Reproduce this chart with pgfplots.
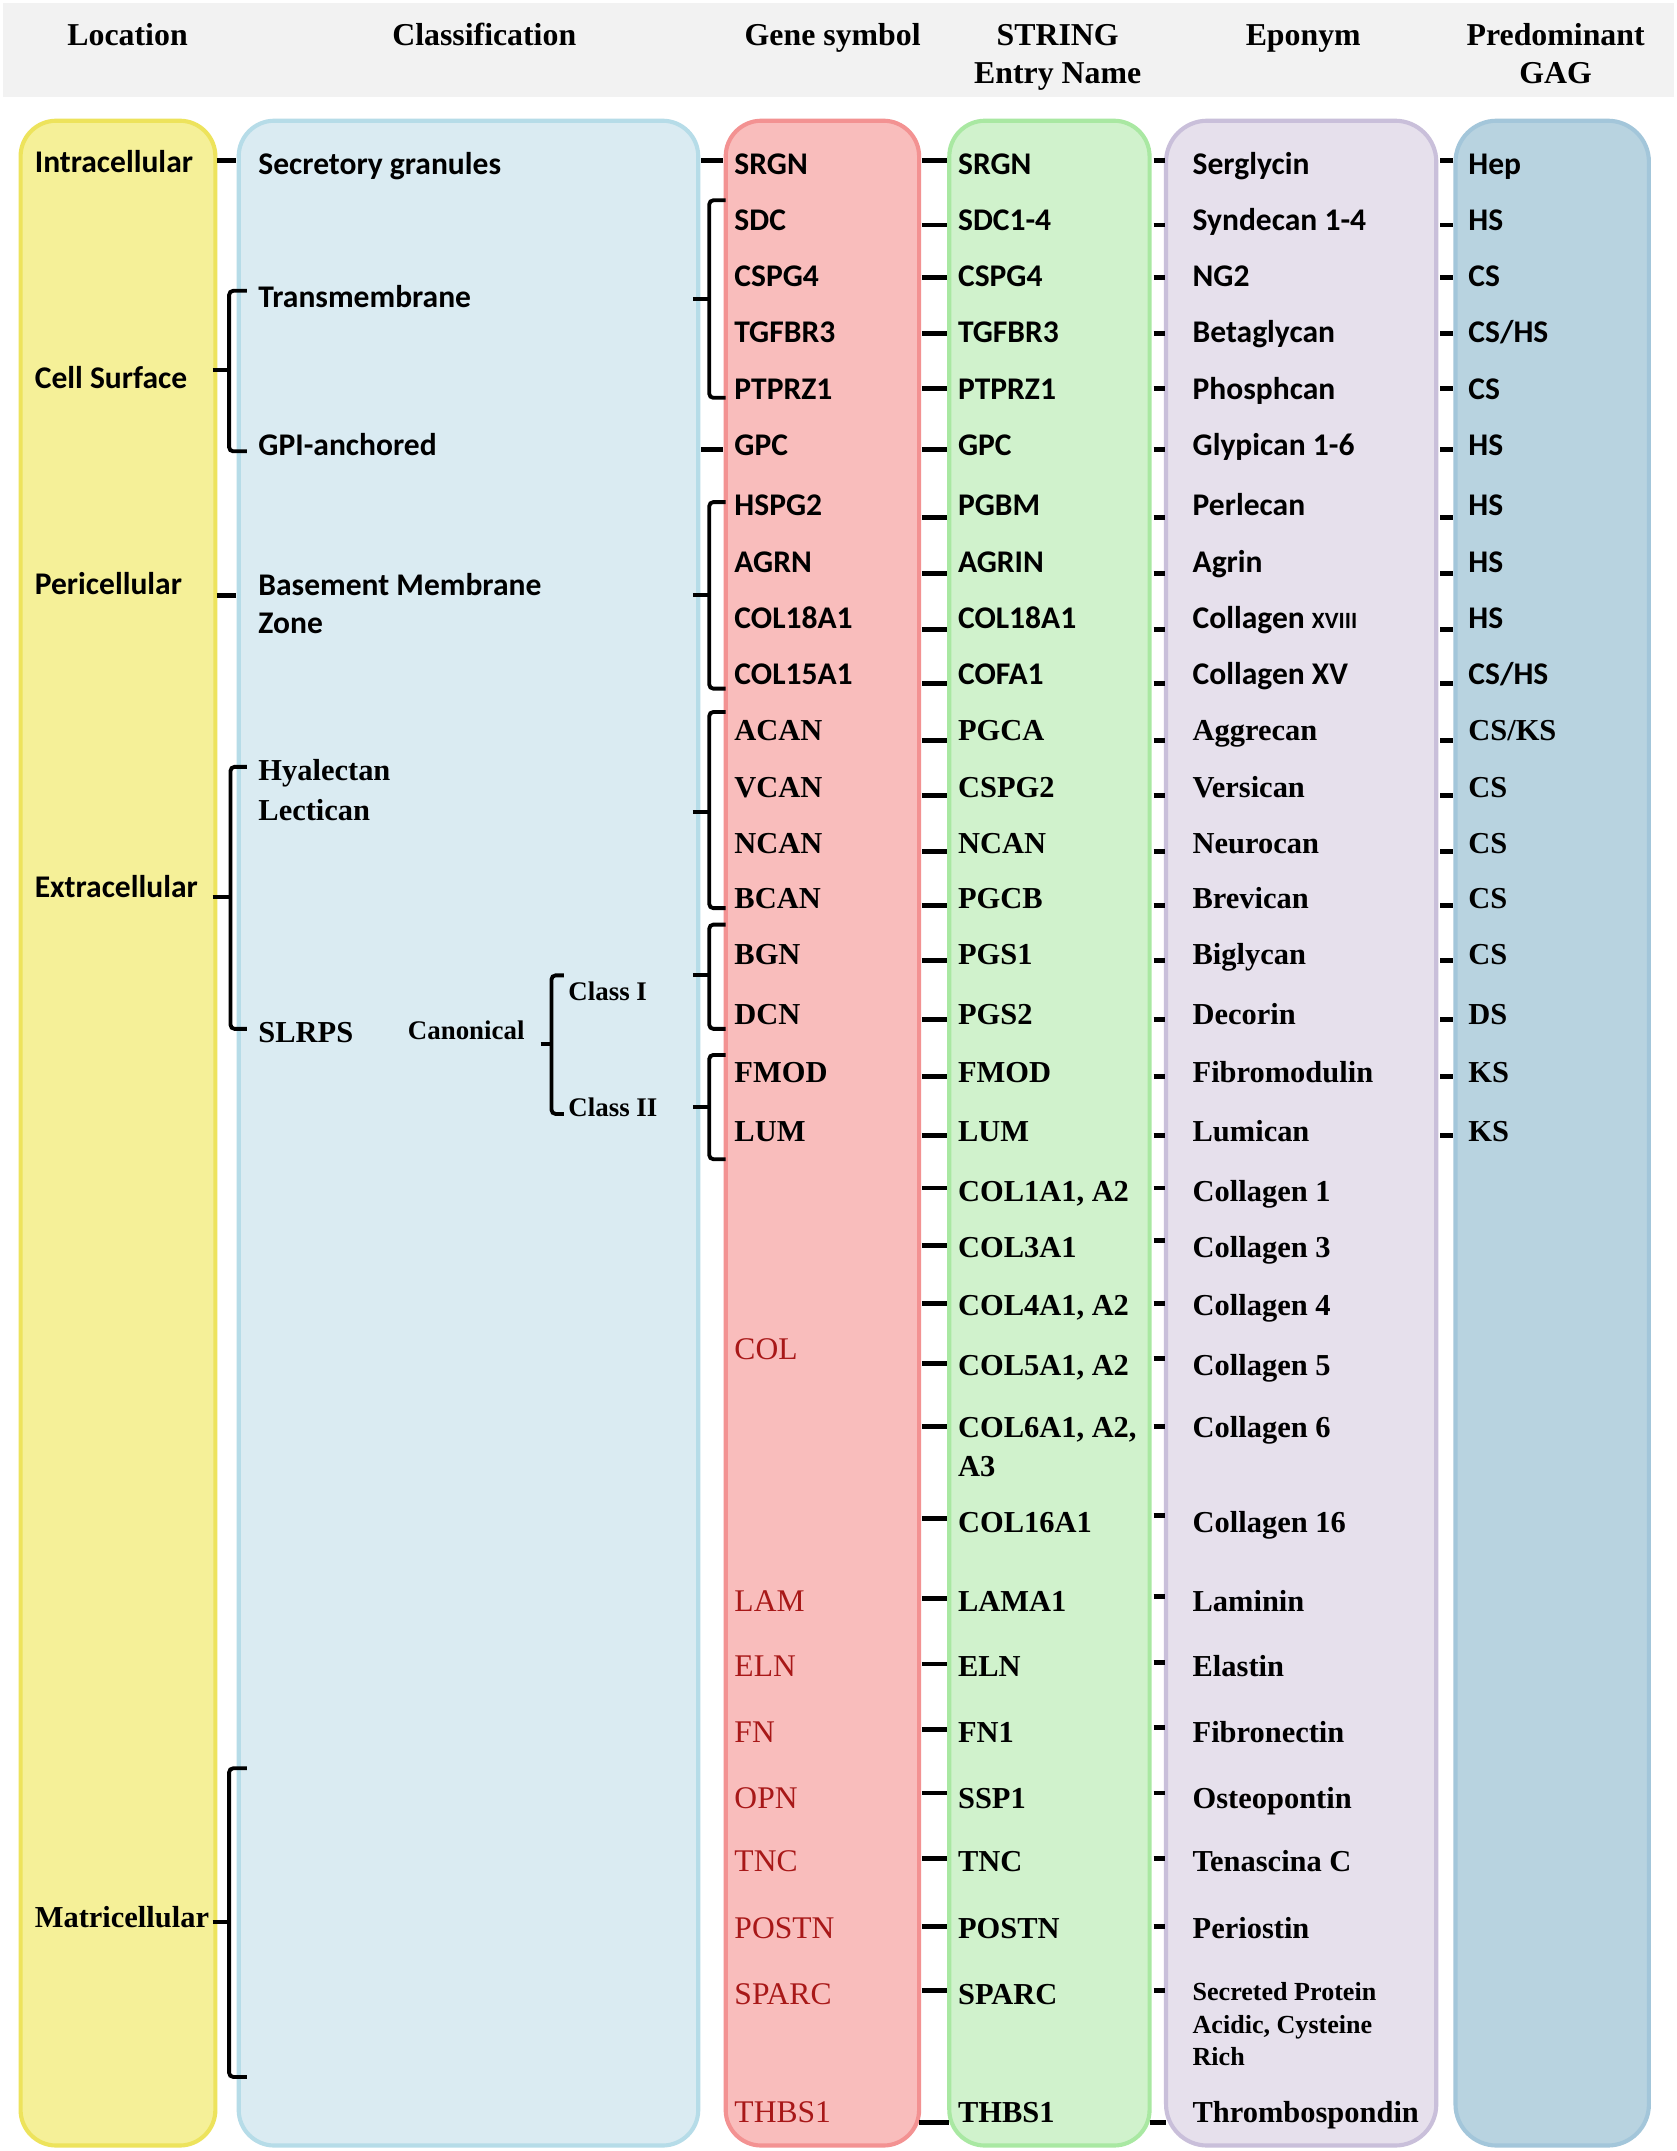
\documentclass[border=0pt]{standalone}
\usepackage{pgfplots}
\pgfplotsset{compat=1.18}
\usepackage{fontspec}
\setmainfont{Liberation Serif}
\newfontfamily\calfont{Carlito}
\definecolor{hdr}{HTML}{F2F2F2}
\definecolor{yfill}{HTML}{F5F098}
\definecolor{ybord}{HTML}{EDE35C}
\definecolor{bfill}{HTML}{DAEBF2}
\definecolor{bbord}{HTML}{B6DCE8}
\definecolor{pfill}{HTML}{F9BDBC}
\definecolor{pbord}{HTML}{F39292}
\definecolor{gfill}{HTML}{D0F2CC}
\definecolor{gbord}{HTML}{A9E8A2}
\definecolor{lfill}{HTML}{E6E0EC}
\definecolor{lbord}{HTML}{C9BFDA}
\definecolor{sfill}{HTML}{B8D3E0}
\definecolor{sbord}{HTML}{A3C6DA}
\definecolor{dred}{HTML}{A81818}
\newcommand{\CB}{\calfont\bfseries\fontsize{11.5}{13}\selectfont}
\newcommand{\TB}{\rmfamily\bfseries\fontsize{11.1}{13}\selectfont}
\newcommand{\TR}{\rmfamily\fontsize{11.5}{13}\selectfont\color{dred}}
\newcommand{\HD}{\rmfamily\bfseries\fontsize{11.6}{14}\selectfont}
\tikzset{lab/.style={anchor=base west,inner sep=0pt},
  hd/.style={anchor=base,inner sep=0pt},
  brk/.style={line width=1.4pt,rounded corners=1.5pt},
  dsh/.style={line width=1.8pt}}
\newcommand{\lab}[3]{\node[lab] at (axis cs:#1,#2) {#3};}
\newcommand{\brk}[6]{\draw[brk] (axis cs:#3,#4) -- (axis cs:#1,#4) -- (axis cs:#1,#5) -- (axis cs:#3,#5); \draw[brk] (axis cs:#2,#6) -- (axis cs:#1,#6);}
\newcommand{\dsh}[3]{\draw[dsh] (axis cs:#1,#3) -- (axis cs:#2,#3);}
\begin{document}
\begin{tikzpicture}
\begin{axis}[width=611pt,height=784pt,scale only axis,xmin=0,xmax=1222,ymin=0,ymax=1568,
  y dir=reverse,hide axis,clip=false]
\addplot[draw=none] coordinates {(0,0) (1222,1568)};
% background
\fill[white] (axis cs:0,0) rectangle (axis cs:1222,1568);
\fill[hdr] (axis cs:2,2) rectangle (axis cs:1220,71);
% header
\node[hd] at (axis cs:93,33) {\HD Location};
\node[hd] at (axis cs:353,33) {\HD Classification};
\node[hd] at (axis cs:607,33) {\HD Gene symbol};
\node[hd] at (axis cs:771,33) {\HD STRING};
\node[hd] at (axis cs:771,61) {\HD Entry Name};
\node[hd] at (axis cs:950,33) {\HD Eponym};
\node[hd] at (axis cs:1134,33) {\HD Predominant};
\node[hd] at (axis cs:1134,61) {\HD GAG};
% columns
\draw[rounded corners=13pt,line width=1.5pt,draw=ybord,fill=yfill] (axis cs:15,88) rectangle (axis cs:157,1564);
\draw[rounded corners=13pt,line width=1.5pt,draw=bbord,fill=bfill] (axis cs:174,88) rectangle (axis cs:509,1564);
\draw[rounded corners=13pt,line width=1.5pt,draw=pbord,fill=pfill] (axis cs:529,88) rectangle (axis cs:670,1564);
\draw[rounded corners=13pt,line width=1.5pt,draw=gbord,fill=gfill] (axis cs:692,88) rectangle (axis cs:838,1564);
\draw[rounded corners=15pt,line width=1.5pt,draw=lbord,fill=lfill] (axis cs:850,88) rectangle (axis cs:1047,1564);
\draw[rounded corners=15pt,line width=1.5pt,draw=sbord,fill=sfill] (axis cs:1061,88) rectangle (axis cs:1202,1564);
% location
\lab{25}{126}{\CB Intracellular}
\lab{25}{283}{\CB Cell Surface}
\lab{25}{433}{\CB Pericellular}
\lab{25}{654}{\CB Extracellular}
\lab{25}{1405}{\TB Matricellular}
% classification
\lab{188}{127}{\CB Secretory granules}
\lab{188}{224}{\CB Transmembrane}
\lab{188}{332}{\CB GPI-anchored}
\lab{188}{434}{\CB Basement Membrane}
\lab{188}{462}{\CB Zone}
\lab{188}{569}{\TB Hyalectan}
\lab{188}{598}{\TB Lectican}
\lab{188}{760}{\TB SLRPS}
\lab{297}{758}{\rmfamily\bfseries\fontsize{9.8}{12}\selectfont Canonical}
\lab{414}{729}{\rmfamily\bfseries\fontsize{9.8}{12}\selectfont Class I}
\lab{414}{814}{\rmfamily\bfseries\fontsize{9.8}{12}\selectfont Class II}
% gene symbols
\lab{535}{127}{\CB SRGN}
\lab{535}{168}{\CB SDC}
\lab{535}{209}{\CB CSPG4}
\lab{535}{250}{\CB TGFBR3}
\lab{535}{291}{\CB PTPRZ1}
\lab{535}{332}{\CB GPC}
\lab{535}{376}{\CB HSPG2}
\lab{535}{417}{\CB AGRN}
\lab{535}{458}{\CB COL18A1}
\lab{535}{499}{\CB COL15A1}
\lab{535}{540}{\TB ACAN}
\lab{535}{581}{\TB VCAN}
\lab{535}{622}{\TB NCAN}
\lab{535}{662}{\TB BCAN}
\lab{535}{703}{\TB BGN}
\lab{535}{747}{\TB DCN}
\lab{535}{789}{\TB FMOD}
\lab{535}{832}{\TB LUM}
\lab{535}{991}{\TR COL}
\lab{535}{1175}{\TR LAM}
\lab{535}{1222}{\TR ELN}
\lab{535}{1270}{\TR FN}
\lab{535}{1318}{\TR OPN}
\lab{535}{1364}{\TR TNC}
\lab{535}{1413}{\TR POSTN}
\lab{535}{1461}{\TR SPARC}
\lab{535}{1547}{\TR THBS1}
% STRING
\lab{698}{127}{\CB SRGN}
\lab{698}{168}{\CB SDC1-4}
\lab{698}{209}{\CB CSPG4}
\lab{698}{250}{\CB TGFBR3}
\lab{698}{291}{\CB PTPRZ1}
\lab{698}{332}{\CB GPC}
\lab{698}{376}{\CB PGBM}
\lab{698}{417}{\CB AGRIN}
\lab{698}{458}{\CB COL18A1}
\lab{698}{499}{\CB COFA1}
\lab{698}{540}{\TB PGCA}
\lab{698}{581}{\TB CSPG2}
\lab{698}{622}{\TB NCAN}
\lab{698}{662}{\TB PGCB}
\lab{698}{703}{\TB PGS1}
\lab{698}{747}{\TB PGS2}
\lab{698}{789}{\TB FMOD}
\lab{698}{832}{\TB LUM}
\lab{698}{876}{\TB COL1A1, A2}
\lab{698}{917}{\TB COL3A1}
\lab{698}{959}{\TB COL4A1, A2}
\lab{698}{1003}{\TB COL5A1, A2}
\lab{698}{1048}{\TB COL6A1, A2,}
\lab{698}{1076}{\TB A3}
\lab{698}{1117}{\TB COL16A1}
\lab{698}{1175}{\TB LAMA1}
\lab{698}{1222}{\TB ELN}
\lab{698}{1270}{\TB FN1}
\lab{698}{1318}{\TB SSP1}
\lab{698}{1364}{\TB TNC}
\lab{698}{1413}{\TB POSTN}
\lab{698}{1461}{\TB SPARC}
\lab{698}{1547}{\TB THBS1}
% Eponym
\lab{869}{127}{\CB Serglycin}
\lab{869}{168}{\CB Syndecan 1-4}
\lab{869}{209}{\CB NG2}
\lab{869}{250}{\CB Betaglycan}
\lab{869}{291}{\CB Phosphcan}
\lab{869}{332}{\CB Glypican 1-6}
\lab{869}{376}{\CB Perlecan}
\lab{869}{417}{\CB Agrin}
\lab{869}{458}{\CB Collagen {\fontsize{8.5}{9}\selectfont XVIII}}
\lab{869}{499}{\CB Collagen XV}
\lab{869}{540}{\TB Aggrecan}
\lab{869}{581}{\TB Versican}
\lab{869}{622}{\TB Neurocan}
\lab{869}{662}{\TB Brevican}
\lab{869}{703}{\TB Biglycan}
\lab{869}{747}{\TB Decorin}
\lab{869}{789}{\TB Fibromodulin}
\lab{869}{832}{\TB Lumican}
\lab{869}{876}{\TB Collagen 1}
\lab{869}{917}{\TB Collagen 3}
\lab{869}{959}{\TB Collagen 4}
\lab{869}{1003}{\TB Collagen 5}
\lab{869}{1048}{\TB Collagen 6}
\lab{869}{1117}{\TB Collagen 16}
\lab{869}{1175}{\TB Laminin}
\lab{869}{1222}{\TB Elastin}
\lab{869}{1270}{\TB Fibronectin}
\lab{869}{1318}{\TB Osteopontin}
\lab{869}{1364}{\TB Tenascina C}
\lab{869}{1413}{\TB Periostin}
\lab{869}{1458}{\rmfamily\bfseries\fontsize{9.5}{12}\selectfont Secreted Protein}
\lab{869}{1482}{\rmfamily\bfseries\fontsize{9.5}{12}\selectfont Acidic, Cysteine}
\lab{869}{1506}{\rmfamily\bfseries\fontsize{9.5}{12}\selectfont Rich}
\lab{869}{1547}{\TB Thrombospondin}
% GAG
\lab{1070}{127}{\CB Hep}
\lab{1070}{168}{\CB HS}
\lab{1070}{209}{\CB CS}
\lab{1070}{250}{\CB CS/HS}
\lab{1070}{291}{\CB CS}
\lab{1070}{332}{\CB HS}
\lab{1070}{376}{\CB HS}
\lab{1070}{417}{\CB HS}
\lab{1070}{458}{\CB HS}
\lab{1070}{499}{\CB CS/HS}
\lab{1070}{540}{\TB CS/KS}
\lab{1070}{581}{\TB CS}
\lab{1070}{622}{\TB CS}
\lab{1070}{662}{\TB CS}
\lab{1070}{703}{\TB CS}
\lab{1070}{747}{\TB DS}
\lab{1070}{789}{\TB KS}
\lab{1070}{832}{\TB KS}
% location -> classification
\dsh{158}{172}{117}
\dsh{158}{172}{434}
\brk{167}{155}{180}{212}{329}{270}
\brk{168}{155}{180}{559}{750}{654}
\brk{167}{155}{180}{1289}{1514}{1401}
% classification -> gene
\dsh{511}{527}{117}
\dsh{511}{527}{328}
\brk{517}{505}{529}{146}{290}{218}
\brk{517}{505}{529}{366}{502}{434}
\brk{517}{505}{529}{519}{662}{592}
\brk{517}{505}{529}{674}{750}{711}
\brk{517}{505}{529}{769}{845}{807}
\brk{402}{394}{411}{711}{812}{761}
% gene -> STRING
\dsh{672}{690}{117}
\dsh{672}{690}{164}
\dsh{672}{690}{202}
\dsh{672}{690}{243}
\dsh{672}{690}{283}
\dsh{672}{690}{328}
\dsh{672}{690}{377}
\dsh{672}{690}{418}
\dsh{672}{690}{459}
\dsh{672}{690}{498}
\dsh{672}{690}{540}
\dsh{672}{690}{580}
\dsh{672}{690}{621}
\dsh{672}{690}{660}
\dsh{672}{690}{700}
\dsh{672}{690}{743}
\dsh{672}{690}{785}
\dsh{672}{690}{828}
\dsh{672}{690}{866}
\dsh{672}{690}{908}
\dsh{672}{690}{950}
\dsh{672}{690}{994}
\dsh{672}{690}{1040}
\dsh{672}{690}{1107}
\dsh{672}{690}{1165}
\dsh{672}{690}{1213}
\dsh{672}{690}{1261}
\dsh{672}{690}{1307}
\dsh{672}{690}{1355}
\dsh{672}{690}{1404}
\dsh{672}{690}{1451}
\dsh{670}{692}{1547}
% STRING -> eponym
\dsh{841}{849}{117}
\dsh{841}{849}{164}
\dsh{841}{849}{202}
\dsh{841}{849}{243}
\dsh{841}{849}{283}
\dsh{841}{849}{328}
\dsh{841}{849}{377}
\dsh{841}{849}{418}
\dsh{841}{849}{459}
\dsh{841}{849}{498}
\dsh{841}{849}{540}
\dsh{841}{849}{580}
\dsh{841}{849}{621}
\dsh{841}{849}{660}
\dsh{841}{849}{700}
\dsh{841}{849}{743}
\dsh{841}{849}{785}
\dsh{841}{849}{828}
\dsh{841}{849}{866}
\dsh{841}{849}{904}
\dsh{841}{849}{950}
\dsh{841}{849}{990}
\dsh{841}{849}{1040}
\dsh{841}{849}{1105}
\dsh{841}{849}{1164}
\dsh{841}{849}{1212}
\dsh{841}{849}{1259}
\dsh{841}{849}{1307}
\dsh{841}{849}{1355}
\dsh{841}{849}{1404}
\dsh{841}{849}{1451}
\dsh{838}{850}{1547}
% eponym -> GAG
\dsh{1050}{1059}{117}
\dsh{1050}{1059}{164}
\dsh{1050}{1059}{202}
\dsh{1050}{1059}{243}
\dsh{1050}{1059}{283}
\dsh{1050}{1059}{328}
\dsh{1050}{1059}{377}
\dsh{1050}{1059}{418}
\dsh{1050}{1059}{459}
\dsh{1050}{1059}{498}
\dsh{1050}{1059}{540}
\dsh{1050}{1059}{580}
\dsh{1050}{1059}{621}
\dsh{1050}{1059}{660}
\dsh{1050}{1059}{700}
\dsh{1050}{1059}{743}
\dsh{1050}{1059}{785}
\dsh{1050}{1059}{828}
\end{axis}
\end{tikzpicture}
\end{document}
